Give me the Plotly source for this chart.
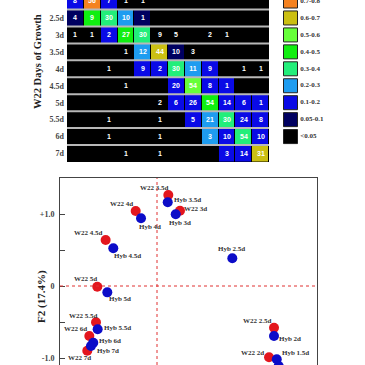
import plotly.graph_objects as go

# ---------------- heatmap data ----------------
row_labels = ["2d", "2.5d", "3d", "3.5d", "4d", "4.5d", "5d", "5.5d", "6d", "7d"]
n_cols = 12
# fraction class of each cell (representative value of the colour bin)
frac = [
    [0.15, 0.75, 0.15, 0, 0, 0, 0, 0, 0, 0, 0, 0],
    [0.07, 0.45, 0.35, 0.25, 0.07, 0, 0, 0, 0, 0, 0, 0],
    [0, 0, 0.15, 0.45, 0.35, 0, 0, 0, 0, 0, 0, 0],
    [0, 0, 0, 0, 0.25, 0.65, 0.07, 0, 0, 0, 0, 0],
    [0, 0, 0, 0, 0.15, 0.15, 0.35, 0.25, 0.15, 0, 0, 0],
    [0, 0, 0, 0, 0, 0, 0.15, 0.55, 0.15, 0.15, 0, 0],
    [0, 0, 0, 0, 0, 0, 0.15, 0.15, 0.45, 0.15, 0.15, 0.15],
    [0, 0, 0, 0, 0, 0, 0, 0.15, 0.25, 0.35, 0.15, 0.15],
    [0, 0, 0, 0, 0, 0, 0, 0, 0.25, 0.15, 0.35, 0.15],
    [0, 0, 0, 0, 0, 0, 0, 0, 0, 0.15, 0.15, 0.65],
]
counts = [
    ["8", "56", "7", "1", "1", "", "", "", "", "", "", ""],
    ["4", "9", "30", "10", "1", "", "", "", "", "", "", ""],
    ["1", "1", "2", "27", "30", "9", "5", "", "2", "1", "", ""],
    ["", "", "", "1", "12", "44", "10", "3", "", "", "", ""],
    ["", "", "1", "", "9", "2", "30", "11", "9", "", "1", "1"],
    ["", "", "", "1", "", "", "20", "54", "8", "1", "", ""],
    ["", "", "", "", "", "2", "6", "26", "54", "14", "6", "1"],
    ["", "", "1", "", "", "1", "", "5", "21", "30", "24", "8"],
    ["", "", "1", "", "", "1", "", "", "3", "10", "54", "10"],
    ["", "", "", "1", "", "1", "", "", "", "3", "14", "31"],
]

# colour bins
bin_edges = [0, 0.05, 0.1, 0.2, 0.3, 0.4, 0.5, 0.6, 0.7, 0.8]
bin_colors = ["#000000", "#000060", "#0a0ae6", "#1e9cf0", "#22ee7a",
              "#10ee10", "#66ff3a", "#cbbf12", "#f58220"]
legend_labels = ["0.7-0.8", "0.6-0.7", "0.5-0.6", "0.4-0.5", "0.3-0.4",
                 "0.2-0.3", "0.1-0.2", "0.05-0.1", "<0.05"]

# ---------------- PCA scatter data ----------------
w22_names = ["W22 3.5d", "W22 3d", "W22 4d", "W22 4.5d", "W22 5d",
             "W22 5.5d", "W22 6d", "W22 7d", "W22 2.5d", "W22 2d"]
w22_f1 = [0.157, 0.319, -0.296, -0.713, -0.829, -0.847, -0.940, -0.968, 1.625, 1.556]
w22_f2 = [1.264, 1.046, 1.042, 0.639, -0.010, -0.504, -0.694, -0.899, -0.579, -0.990]

hyb_names = ["Hyb 3.5d", "Hyb 3d", "Hyb 4d", "Hyb 4.5d", "Hyb 5d", "Hyb 5.5d",
             "Hyb 6d", "Hyb 7d", "Hyb 2.5d", "Hyb 2d", "Hyb 1.5d", "Hyb 1d"]
hyb_f1 = [0.149, 0.260, -0.222, -0.607, -0.690, -0.824, -0.885, -0.917, 1.046, 1.625, 1.663, 1.690]
hyb_f2 = [1.163, 0.996, 0.940, 0.524, -0.088, -0.601, -0.788, -0.833, 0.385, -0.694, -1.018, -1.110]

# label offsets (pixels, label centre relative to point; +y = down)
w22_label_off = [(-14, -7), (16, -2), (-14, -7), (-17, -7), (-12, -8),
                 (-13, -6), (-14, -7), (-8, 7), (-17, -7), (-17, -4)]
hyb_label_off = [(20, -2), (4, 9), (9, 9), (14, 8), (13, 7), (20, -1),
                 (17, -2), (17, 5), (-1, -9), (16, 3), (19, -6), (18, 8)]

y_ticks = [-1.0, -0.5, 0, 0.5, 1.0]
y_ticktext = ["-1.0", "", "0", "", "+1.0"]

# ---------------- figure ----------------
W = H = 365
serif = "Liberation Serif"

zmax = bin_edges[-1]
colorscale = []
for i, c in enumerate(bin_colors):
    colorscale.append([bin_edges[i] / zmax, c])
    colorscale.append([bin_edges[i + 1] / zmax, c])

fig = go.Figure()

fig.add_trace(go.Heatmap(
    z=frac, x=list(range(n_cols)), y=list(range(len(row_labels))),
    text=counts, texttemplate="%{text}",
    textfont=dict(color="white", size=7, family="Arial", weight="bold"),
    colorscale=colorscale, zmin=0, zmax=zmax, showscale=False,
    xgap=1, ygap=0, xaxis="x", yaxis="y", hoverinfo="skip",
))

# legend squares
fig.add_trace(go.Scatter(
    x=[0] * len(legend_labels), y=list(range(len(legend_labels))),
    mode="markers+text", text=legend_labels, textposition="middle right",
    marker=dict(symbol="square", size=14, color=bin_colors[::-1],
                line=dict(color="#222222", width=1)),
    textfont=dict(family=serif, size=7, color="#333333", weight="bold"),
    cliponaxis=False, xaxis="x3", yaxis="y3", showlegend=False, hoverinfo="skip",
))

# scatter points
fig.add_trace(go.Scatter(
    x=w22_f1, y=w22_f2, mode="markers",
    marker=dict(size=10, color="#e3161e"),
    xaxis="x2", yaxis="y2", showlegend=False,
))
fig.add_trace(go.Scatter(
    x=hyb_f1, y=hyb_f2, mode="markers",
    marker=dict(size=10, color="#0c0cc8"),
    xaxis="x2", yaxis="y2", showlegend=False,
))

hm_top, hm_bot = 0, 162
hm_left, hm_right = 67, 269
sc_left, sc_right, sc_top = 60, 317, 178


def px_x(p):
    return p / W


def px_y(p):
    return 1 - p / H


n_rows = len(row_labels)
hm_range = [n_rows - 0.5, -0.06]

shapes = [
    dict(type="rect", xref="x domain", yref="y domain", x0=0, x1=1, y0=0, y1=1,
         fillcolor="black", line=dict(width=0), layer="below"),
]
for i in range(n_rows - 1):
    shapes.append(dict(type="line", xref="x domain", yref="y", x0=0, x1=1,
                       y0=i + 0.5, y1=i + 0.5, line=dict(color="#b8b8b8", width=2)))
shapes += [
    dict(type="line", xref="x2", yref="y2 domain", x0=0, x1=0, y0=0, y1=1,
         line=dict(color="#e03030", width=1, dash="dot")),
    dict(type="line", xref="x2 domain", yref="y2", x0=0, x1=1, y0=0, y1=0,
         line=dict(color="#e03030", width=1, dash="dot")),
]

label_font = dict(family=serif, size=7, color="#333333", weight="bold")
annotations = [
    dict(text="W22 Days of Growth", x=px_x(38), y=px_y(62), xref="paper", yref="paper",
         xanchor="center", yanchor="middle", textangle=-90, showarrow=False,
         font=dict(family=serif, size=10.5, color="#222222", weight="bold")),
    dict(text="F2 (17.4%)", x=px_x(41), y=px_y(297), xref="paper", yref="paper",
         xanchor="center", yanchor="middle", textangle=-90, showarrow=False,
         font=dict(family=serif, size=11, color="#222222", weight="bold")),
]
for names, xs, ys, offs in [(w22_names, w22_f1, w22_f2, w22_label_off),
                            (hyb_names, hyb_f1, hyb_f2, hyb_label_off)]:
    for n, xv, yv, (dx, dy) in zip(names, xs, ys, offs):
        annotations.append(dict(text=n, x=xv, y=yv, xref="x2", yref="y2",
                                xanchor="center", yanchor="middle",
                                xshift=dx, yshift=-dy, showarrow=False,
                                font=label_font))

fig.update_layout(
    width=W, height=H, margin=dict(l=0, r=0, t=0, b=0),
    paper_bgcolor="white", plot_bgcolor="white",
    showlegend=False, hovermode=False,
    xaxis=dict(domain=[px_x(hm_left), px_x(hm_right)], range=[-0.5, n_cols - 0.5],
               showticklabels=False, showgrid=False, zeroline=False, showline=False,
               anchor="y"),
    yaxis=dict(domain=[px_y(hm_bot), px_y(hm_top)], range=hm_range,
               tickvals=list(range(n_rows)), ticktext=row_labels,
               tickfont=dict(family=serif, size=8, color="#444444", weight="bold"),
               showgrid=False, zeroline=False, showline=False, ticks="",
               ticklabelstandoff=2, anchor="x"),
    xaxis3=dict(domain=[px_x(281), px_x(300)], range=[-1, 1], visible=False, anchor="y3"),
    yaxis3=dict(domain=[px_y(hm_bot), px_y(hm_top)], range=hm_range,
                visible=False, anchor="x3"),
    xaxis2=dict(domain=[px_x(sc_left), px_x(sc_right)], range=[-1.347, 2.222],
                side="top", showline=True, linecolor="#444444", linewidth=1,
                mirror=False, ticks="", showticklabels=False, showgrid=False,
                zeroline=False, anchor="y2"),
    yaxis2=dict(domain=[0, px_y(sc_top)], range=[-1.097, 1.5],
                showline=True, linecolor="#444444", linewidth=1, mirror=True,
                ticks="inside", ticklen=5, tickcolor="#444444",
                tickvals=y_ticks, ticktext=y_ticktext,
                tickfont=dict(family=serif, size=8, color="#444444", weight="bold"),
                ticklabelstandoff=3,
                showgrid=False, zeroline=False, anchor="x2"),
    shapes=shapes,
    annotations=annotations,
)

fig.write_html("out.html", config={"displayModeBar": False},
               post_script="document.body.style.margin='0';")
